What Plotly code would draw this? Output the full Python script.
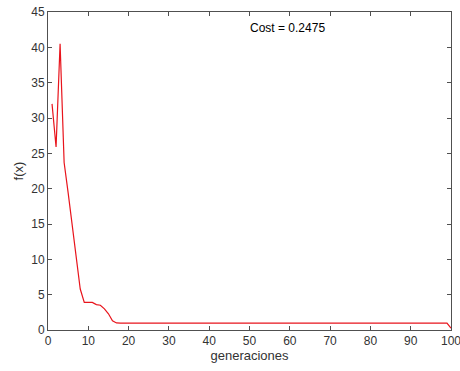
import plotly.graph_objects as go

generations = list(range(1, 101))
early_values = [32.0, 25.9, 40.5, 23.7, 19.4, 15.0, 10.3, 5.8, 3.9, 3.9,
                3.9, 3.6, 3.5, 3.0, 2.3, 1.3, 1.0]
plateau_value = 0.98
final_value = 0.2475
fx = early_values + [plateau_value] * (99 - len(early_values)) + [final_value]

x_ticks = [0, 10, 20, 30, 40, 50, 60, 70, 80, 90, 100]
y_ticks = [0, 5, 10, 15, 20, 25, 30, 35, 40, 45]
annotation_text = "Cost = 0.2475"

axis_color = "#505050"
font = dict(family="Liberation Sans, Arial, sans-serif", size=12, color="#333333")

fig = go.Figure()
fig.add_trace(go.Scatter(x=generations, y=fx, mode="lines",
                         line=dict(color="#e8141c", width=1.2),
                         showlegend=False, hoverinfo="skip"))

common = dict(showgrid=False, zeroline=False, showline=True, linecolor=axis_color,
              linewidth=1, mirror="ticks", ticks="inside", ticklen=4,
              tickcolor=axis_color, tickfont=font, automargin=False,
              ticklabeloverflow="allow")
fig.update_xaxes(range=[0, 100], tickvals=x_ticks,
                 title=dict(text="generaciones", font=dict(font, size=13), standoff=2),
                 **common)
fig.update_yaxes(range=[0, 45], tickvals=y_ticks,
                 title=dict(text="f(x)", font=dict(font, size=13), standoff=4),
                 **common)

fig.add_annotation(x=59.5, y=42.7, text=annotation_text, showarrow=False,
                   font=dict(font, size=12, color="#000000"))

fig.update_layout(width=460, height=371, plot_bgcolor="white", paper_bgcolor="white",
                  margin=dict(l=48, r=9, t=12, b=41, autoexpand=False), font=font)

fig.write_html("out.html", config={"displayModeBar": False},
               post_script="document.body.style.margin='0';"
                           "document.body.style.overflow='hidden';")
